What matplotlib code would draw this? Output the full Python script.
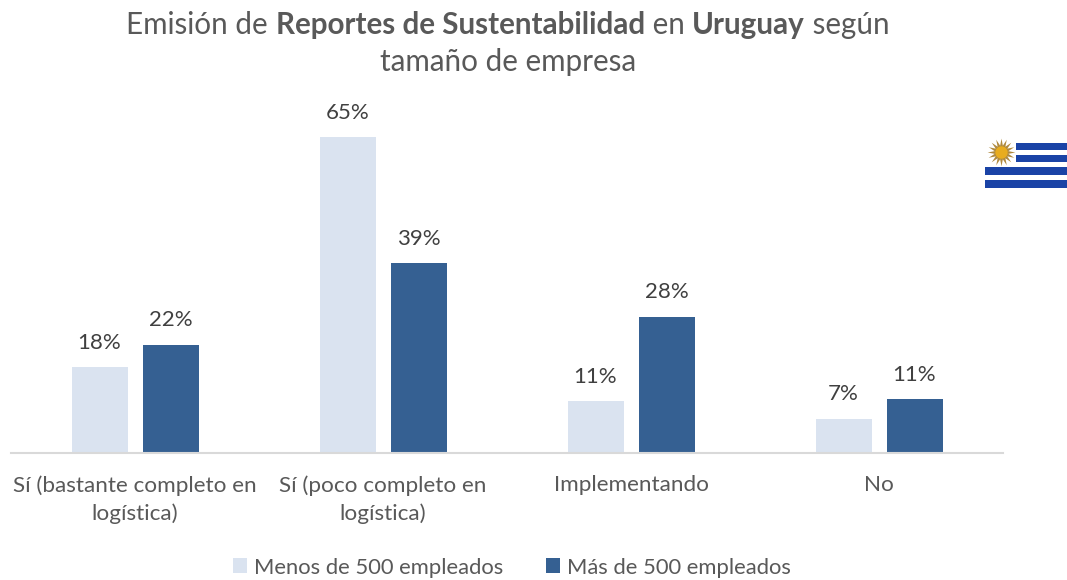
import matplotlib as mpl
mpl.use('agg')
import matplotlib.pyplot as plt
import numpy as np

plt.rcParams['font.family'] = ['Lato', 'DejaVu Sans']

categories = ['Sí (bastante completo en\nlogística)', 'Sí (poco completo en\nlogística)',
              'Implementando', 'No']
menos = [17.6, 65, 10.6, 7]
mas = [22.2, 39, 28, 11]
series_names = ['Menos de 500 empleados', 'Más de 500 empleados']
title_line1 = [('Emisión de ', 'normal'), ('Reportes de Sustentabilidad', 'bold'),
               (' en ', 'normal'), ('Uruguay', 'bold'), (' según', 'normal')]
title_line2 = [('tamaño de empresa', 'normal')]

light = '#dae3f0'
dark = '#356092'
grey = '#595959'
W, H = 1067, 580

fig = plt.figure(figsize=(W / 100, H / 100), dpi=100)
ax = fig.add_axes([11 / W, 1 - 452.5 / H, 992 / W, 400 / H])

x = np.arange(len(categories))
bw = 56 / 248
off = 35.5 / 248
b1 = ax.bar(x - off, menos, bw, color=light, label=series_names[0])
b2 = ax.bar(x + off, mas, bw, color=dark, label=series_names[1])
for bars in (b1, b2):
    ax.bar_label(bars, fmt=lambda v: f'{v:.0f}%', padding=10.5, fontsize=16, color='#404040')

ax.set_xlim(-0.5, 3.5)
ax.set_ylim(0, 400 / 4.85)
ax.set_yticks([])
ax.set_xticks(x)
ax.set_xticklabels(categories, fontsize=16.2, color=grey, linespacing=1.42)
ax.tick_params(axis='x', length=0, pad=16.5)
for s in ['top', 'left', 'right']:
    ax.spines[s].set_visible(False)
ax.spines['bottom'].set_color('#d9d9d9')
ax.spines['bottom'].set_linewidth(1.5)

ax.legend(loc='center', bbox_to_anchor=(512 / W, 1 - 567.5 / H), bbox_transform=fig.transFigure,
          ncol=2, frameon=False, fontsize=15.8, labelcolor=grey, handlelength=0.65, handleheight=0.65,
          handletextpad=0.3, columnspacing=1.95)

# title has mixed weights, so place the pieces one after another
def title_line(runs, y):
    r = fig.canvas.get_renderer()
    texts = [fig.text(0, 1 - y / H, s, fontsize=21.3, fontweight=w, color=grey, va='baseline')
             for s, w in runs]
    # spaces at the ends are not measured, use a marker to get the full width
    widths = []
    for t, (s, w) in zip(texts, runs):
        t.set_text('|' + s + '|')
        a = t.get_window_extent(r).width
        t.set_text('||')
        b = t.get_window_extent(r).width
        t.set_text(s)
        widths.append(a - b)
    left = 508 - sum(widths) / 2
    for t, wd in zip(texts, widths):
        t.set_x(left / W)
        left += wd

title_line(title_line1, 34)
title_line(title_line2, 71)

# flag, in pixel coordinates
fl = fig.add_axes([0, 0, 1, 1], facecolor='none')
fl.set_xlim(0, W)
fl.set_ylim(H, 0)
fl.axis('off')
blue = '#1a43a6'
for y0, y1, x0 in [(142.5, 149.5, 1016), (154.5, 162, 1016), (167, 174.5, 985), (179.5, 187.5, 985)]:
    fl.fill_between([x0, W], y0, y1, color=blue, lw=0)
fl.scatter([1001], [152], s=400, marker=(16, 1, 0), color='#b08a3e', lw=0)
fl.scatter([1001], [152], s=80, marker='o', color='#e8ac1e', lw=0)

fig.savefig('out.png', dpi=100)
